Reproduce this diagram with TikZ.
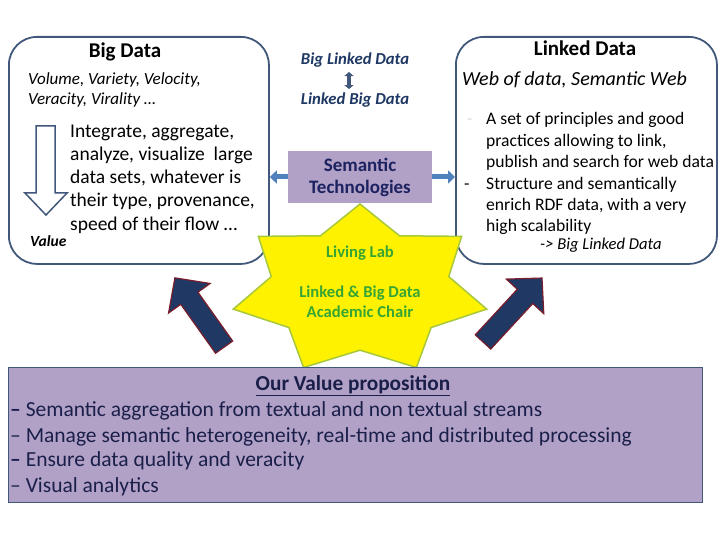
\documentclass[tikz,border=0pt]{standalone}
\usepackage{fontspec}
\setmainfont{Carlito}
\usetikzlibrary{arrows.meta}
\definecolor{boxline}{HTML}{41587A}
\definecolor{lav}{HTML}{B2A1C7}
\definecolor{navytxt}{HTML}{1C2160}
\definecolor{midnavy}{HTML}{1F3864}
\definecolor{arrblue}{HTML}{4F81BD}
\definecolor{arrblueline}{HTML}{385D8A}
\definecolor{bignavy}{HTML}{1F3864}
\definecolor{darkred}{HTML}{7A1E2C}
\definecolor{stargreen}{HTML}{A8C83C}
\definecolor{startxt}{HTML}{36A534}
\definecolor{vptxt}{HTML}{1A1F4A}
\definecolor{faint}{HTML}{DDDDDD}
\newcommand{\bigarrowpath}[1]{%
  (-#1/2,-10.5) -- (#1/2-25,-10.5) -- (#1/2-25,-25.5) -- (#1/2,0) -- (#1/2-25,25.5) -- (#1/2-25,10.5) -- (-#1/2,10.5) -- cycle}
\begin{document}
\begin{tikzpicture}[x=1pt,y=-1pt,
  bigbox/.style={draw=boxline,line width=1.8pt,rounded corners=28pt,fill=white,inner sep=0pt,anchor=north west},
  txt/.style={inner sep=0pt,anchor=base west},
  boxtitle/.style={inner sep=0pt,anchor=base,font=\fontsize{21}{24}\selectfont\bfseries},
  ittxt/.style={txt,font=\fontsize{17}{19}\selectfont\itshape},
  bodyL/.style={txt,font=\fontsize{19.5}{22}\selectfont},
  bodyR/.style={txt,font=\fontsize{17.6}{20}\selectfont},
  centit/.style={inner sep=0pt,anchor=base,text=midnavy,font=\fontsize{16.7}{18}\selectfont\bfseries\itshape},
  semarrow/.style={draw=arrblueline,line width=5pt,-{Triangle[length=7pt,width=13pt]},color=arrblue},
  bigarrow/.style={fill=bignavy,draw=darkred,line width=1.2pt,line join=miter},
  startext/.style={inner sep=0pt,anchor=base,text=startxt,font=\fontsize{16.6}{19}\selectfont\bfseries},
  vpline/.style={txt,text=vptxt,font=\fontsize{21.5}{24}\selectfont}
]
\useasboundingbox (0,0) rectangle (720,540);
\fill[white] (0,0) rectangle (720,540);

% left box
\node[bigbox,minimum width=260pt,minimum height=227pt] (bd) at (8,36) {};
\node[boxtitle] (bdt) at (125,58) {Big Data};
\node[ittxt] (v1) at (28,85) {Volume, Variety, Velocity,};
\node[ittxt] (v2) at (28,105) {Veracity, Virality …};
\foreach \t [count=\i] in {{Integrate, aggregate,},{analyze, visualize\ \ large},{data sets, whatever is},{their type, provenance,},{speed of their flow …}}
  \node[bodyL] (ia\i) at (70,{138+23*(\i-1)}) {\t};
\node[txt,font=\fontsize{15.5}{17}\selectfont\bfseries\itshape] (val) at (30,247) {Value};
\draw[draw=boxline,line width=1.5pt,fill=white,line join=miter]
  (36,126) -- (55,126) -- (55,193) -- (67,193) -- (46,215) -- (25,193) -- (36,193) -- cycle;

% right box
\node[bigbox,minimum width=261pt,minimum height=227pt] (ld) at (455,36) {};
\node[boxtitle] (ldt) at (585,56) {Linked Data};
\node[txt,font=\fontsize{20}{22}\selectfont\itshape] (wod) at (462,86) {Web of data, Semantic Web};
\node[txt,text=faint,font=\fontsize{17.6}{20}\selectfont] (d1) at (467,125) {-};
\node[txt,font=\fontsize{17.6}{20}\selectfont] (d2) at (464,190) {-};
\foreach \t/\y [count=\i] in {{A set of principles and good}/125,{practices allowing to link,}/147,{publish and search for web data}/168,{Structure and semantically}/190,{enrich RDF data, with a very}/211,{high scalability}/231}
  \node[bodyR] (lr\i) at (486,\y) {\t};
\node[txt,font=\fontsize{16.6}{19}\selectfont\itshape] (bldr) at (540,249) {-> Big Linked Data};

% center
\node[centit] (bld) at (355,65) {Big Linked Data};
\node[centit] (lbd) at (355,105) {Linked Big Data};
\draw[draw=boxline,line width=3.5pt,{Triangle[length=4pt,width=9pt]}-{Triangle[length=4pt,width=9pt]},shorten <=4pt,shorten >=4pt]
  ([xshift=-6pt]bld.south) -- ([xshift=-6pt]lbd.north);

% star
\draw[fill=yellow,draw=stargreen,line width=1.5pt,line join=miter]
  plot[samples at={0,...,13},variable=\k] ({360+130*(1-0.3*mod(\k,2))*cos(90+\k*180/7)},{290-86*(1-0.3*mod(\k,2))*sin(90+\k*180/7)}) -- cycle;
\node[startext] (ll) at (360,257) {Living Lab};
\node[startext] (lbg) at (360,297) {Linked \& Big Data};
\node[startext] (ac) at (360,317) {Academic Chair};

% semantic technologies
\node[fill=lav,minimum width=144pt,minimum height=52pt,inner sep=0pt,align=center,text=navytxt,
  font=\fontsize{19}{22}\selectfont\bfseries] (st) at (360,177) {Semantic\\Technologies};
\draw[semarrow] (st.west) -- (bd.east |- st.west);
\draw[semarrow] (st.east) -- (ld.west |- st.east);

% big arrows
\coordinate (ba1) at (199.5,312.5);
\coordinate (ba2) at (512.5,310);
\begin{scope}[shift={(ba1)},rotate=125.4]
  \draw[bigarrow] \bigarrowpath{85};
\end{scope}
\begin{scope}[shift={(ba2)},rotate=47.3]
  \draw[bigarrow] \bigarrowpath{87};
\end{scope}

% value proposition
\node[draw=boxline,line width=1pt,fill=lav,anchor=north west,minimum width=694pt,minimum height=135pt,inner sep=0pt] (vp) at (8,367) {};
\node[inner sep=0pt,anchor=base,text=vptxt,font=\fontsize{21.3}{24}\selectfont\bfseries] (vpt) at (353,390) {\underline{Our Value proposition}};
\node[vpline] (vp1) at (10,416) {\textbf{–} Semantic aggregation from textual and non textual streams};
\node[vpline] (vp2) at (10,442) {– Manage semantic heterogeneity, real-time and distributed processing};
\node[vpline] (vp3) at (10,466) {\textbf{–} Ensure data quality and veracity};
\node[vpline] (vp4) at (10,492) {– Visual analytics};
\end{tikzpicture}
\end{document}
